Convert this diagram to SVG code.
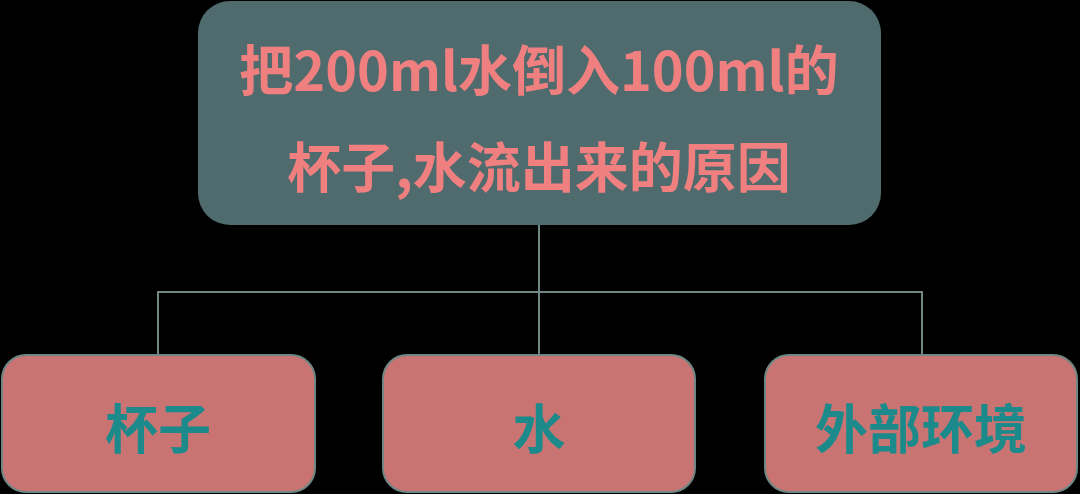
<svg xmlns="http://www.w3.org/2000/svg" width="1080" height="494" viewBox="0 0 1080 494">
<style>
.top{fill:#4f6b6d;}
.leaf{fill:#c97473;stroke:#6f8784;stroke-width:2;}
.tt{font-family:"Noto Sans CJK SC","Microsoft YaHei",sans-serif;font-weight:bold;font-size:54px;fill:#f08080;text-anchor:middle;}
.lt{font-family:"Noto Sans CJK SC",sans-serif;font-weight:bold;font-size:53px;fill:#1c8a8b;text-anchor:middle;}
.conn{fill:none;stroke:#6f8886;stroke-width:2;}
</style>
<rect width="1080" height="494" fill="#000"/>
<g id="connectors">
<path class="conn" d="M539 225 V292 M158 355 V292 H922 V355 M539 292 V355"/>
</g>
<g id="root">
<rect class="top" x="198" y="1" width="683" height="224" rx="32"/>
<text class="tt" x="539" y="91">把200ml水倒入100ml的</text>
<text class="tt" x="539" y="188">杯子,水流出来的原因</text>
</g>
<g id="cup">
<rect class="leaf" x="2" y="355" width="313" height="137" rx="24"/>
<text class="lt" x="158" y="449">杯子</text>
</g>
<g id="water">
<rect class="leaf" x="383" y="355" width="312" height="137" rx="24"/>
<text class="lt" x="539" y="449">水</text>
</g>
<g id="env">
<rect class="leaf" x="765" y="355" width="312" height="137" rx="24"/>
<text class="lt" x="921" y="449">外部环境</text>
</g>
</svg>
